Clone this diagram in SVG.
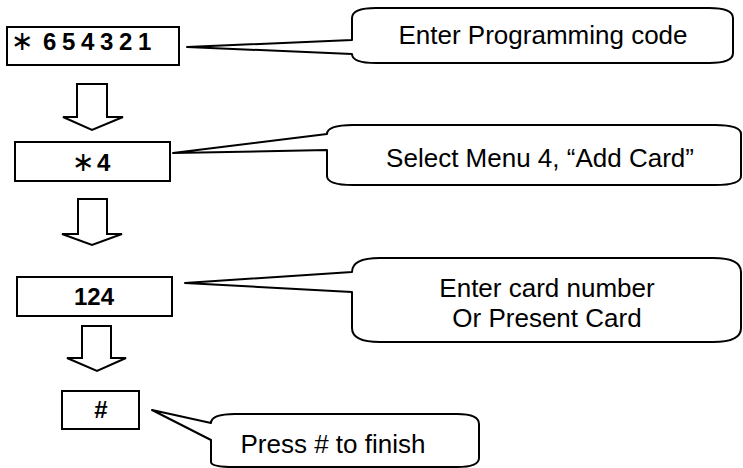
<svg xmlns="http://www.w3.org/2000/svg" width="743" height="468" viewBox="0 0 743 468">
  <style>
    .box { fill: #ffffff; stroke: #000000; stroke-width: 2; }
    .callout { fill: #ffffff; stroke: #000000; stroke-width: 2; stroke-linejoin: round; }
    .arrow { fill: #ffffff; stroke: #000000; stroke-width: 2; stroke-linejoin: miter; }
    .key { font-family: "Liberation Sans", Arial, sans-serif; font-weight: bold; font-size: 24px; fill: #000000; }
    .star { font-family: "DejaVu Sans", sans-serif; font-weight: normal; font-size: 27px; }
    .note { font-family: "Liberation Sans", Arial, sans-serif; font-size: 26px; fill: #000000; text-anchor: middle; }
  </style>
  <rect width="743" height="468" fill="#ffffff"/>

  <!-- block arrows between the key steps -->
  <g id="connectors">
    <path class="arrow" d="M77,84 L107,84 L107,117 L123,117 L92,130 L63,117 L77,117 Z"/>
    <path class="arrow" d="M78,199 L107,199 L107,234 L122,234 L92,245 L62,234 L78,234 Z"/>
    <path class="arrow" d="M82,326 L111,326 L111,358 L126,358 L97,371 L67,358 L82,358 Z"/>
  </g>

  <!-- step 1: programming code -->
  <g id="step-code">
    <rect class="box" x="7" y="27" width="172" height="38"/>
    <text class="key" y="50"><tspan class="star" x="11" y="50">∗</tspan><tspan x="43" y="50" word-spacing="-1">6 5 4 3 2 1</tspan></text>
  </g>
  <g id="note-code">
    <path class="callout" d="M352,18 Q352,8 376,8 L709,8 Q733,8 733,18 L733,53 Q733,63 709,63 L376,63 Q352,63 352,54 L187,47 L352,40 Z"/>
    <text class="note" x="543" y="44">Enter Programming code</text>
  </g>

  <!-- step 2: menu 4 -->
  <g id="step-menu">
    <rect class="box" x="15" y="142" width="155" height="39"/>
    <text class="key" y="171"><tspan class="star" x="72" y="171">∗</tspan><tspan x="97" y="171">4</tspan></text>
  </g>
  <g id="note-menu">
    <path class="callout" d="M327,134 Q327,125 353,125 L715,125 Q741,125 741,134 L741,176 Q741,185 715,185 L353,185 Q327,185 327,176 L327,150 L173,153 Z"/>
    <text class="note" x="540" y="167">Select Menu 4, “Add Card”</text>
  </g>

  <!-- step 3: card number -->
  <g id="step-card">
    <rect class="box" x="17" y="277" width="155" height="39"/>
    <text class="key" x="94" y="305" text-anchor="middle">124</text>
  </g>
  <g id="note-card">
    <path class="callout" d="M352,272 Q352,258 380,258 L713,258 Q741,258 741,272 L741,328 Q741,342 713,342 L380,342 Q352,342 352,328 L352,292 L185,283 Z"/>
    <text class="note" x="547" y="297">Enter card number</text>
    <text class="note" x="547" y="327">Or Present Card</text>
  </g>

  <!-- step 4: finish -->
  <g id="step-finish">
    <rect class="box" x="62" y="391" width="77" height="38"/>
    <text class="key" x="101" y="418" text-anchor="middle">#</text>
  </g>
  <g id="note-finish">
    <path class="callout" d="M211,423 Q211,414 235,414 L457,414 Q479,414 479,424 L479,458 Q479,467 457,467 L235,467 Q211,467 211,462 L211,440 L152,410 Z"/>
    <text class="note" x="333" y="453">Press # to finish</text>
  </g>
</svg>
